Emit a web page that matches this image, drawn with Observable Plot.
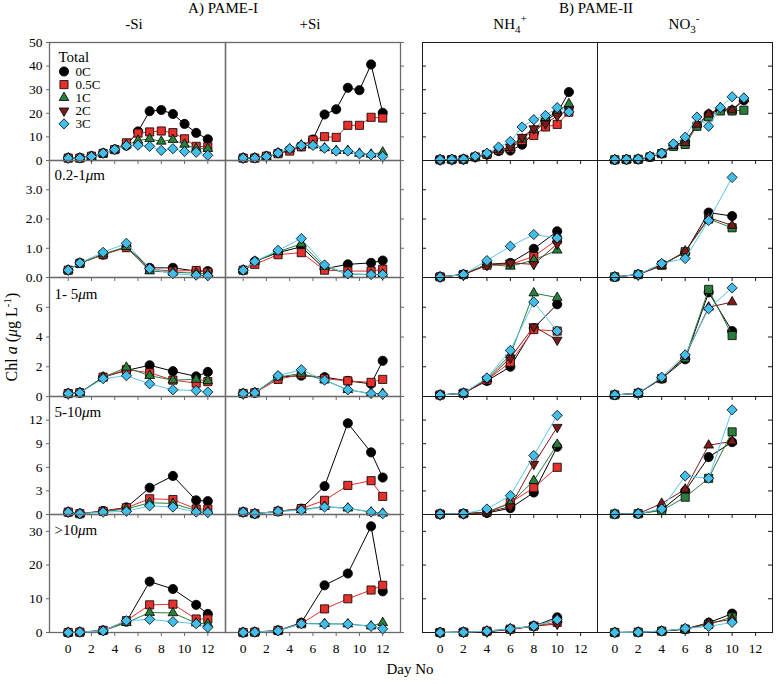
<!DOCTYPE html>
<html><head><meta charset="utf-8">
<script src="https://cdn.jsdelivr.net/npm/d3@7"></script>
<script src="https://cdn.jsdelivr.net/npm/@observablehq/plot@0.6"></script>
<style>
body{margin:0;background:#fff;}
#fig{position:relative;width:776px;height:684px;font-family:"Liberation Serif","Times New Roman",serif;background:#fff;overflow:hidden;}
#fig > svg{position:absolute;overflow:visible;}
</style></head><body><div id="fig"></div>
<script>
// ---------------- data ----------------
const seriesNames = ["0C", "0.5C", "1C", "2C", "3C"];
const seriesFill = ["#000000", "#e5302c", "#2b7d3b", "#7a1b1b", "#43bde9"];
const seriesLine = ["#000000", "#e5302c", "#2b7d3b", "#7a1b1b", "#5ac6ef"];
const rowLabels = ["Total", "0.2-1μm", "1- 5μm", "5-10μm", ">10μm"];
const rowTicks = [[0, 10, 20, 30, 40, 50], [0, 1, 2, 3], [0, 2, 4, 6], [0, 3, 6, 9, 12], [0, 10, 20, 30]];
const rowMax = [50, 4, 8, 15, 35];
const dayTicks = [0, 2, 4, 6, 8, 10, 12];
const colHeads = ["-Si", "+Si", "NH4+", "NO3-"];

const daysI_total = [0, 1, 2, 3, 4, 5, 6, 7, 8, 9, 10, 11, 12];
const daysI_frac = [0, 1, 3, 5, 7, 9, 11, 12];
const daysII_total = [0, 1, 2, 3, 4, 5, 6, 7, 8, 9, 10, 11];
const daysII_frac = [0, 2, 4, 6, 8, 10];

// Total
const totalMinusSi = {
  "0C":   [1.1, 1.1, 1.8, 3.1, 4.7, 6.3, 12.3, 20.9, 21.4, 19.7, 15.5, 11.7, 9.0],
  "0.5C": [1.0, 1.0, 1.8, 3.0, 4.6, 7.5, 11.6, 12.1, 12.5, 11.8, 9.2, 6.0, 5.8],
  "1C":   [1.0, 1.0, 1.7, 3.0, 4.6, 6.5, 8.5, 9.2, 8.1, 8.8, 6.8, 5.0, 5.0],
  "3C":   [1.0, 1.0, 1.7, 3.1, 4.7, 6.3, 6.5, 6.0, 4.3, 5.0, 3.8, 3.5, 2.2]
};
const totalPlusSi = {
  "0C":   [1.1, 1.1, 1.8, 3.1, 4.5, 6.0, 8.9, 19.5, 21.7, 30.8, 29.8, 40.7, 20.2],
  "0.5C": [1.0, 1.0, 1.8, 2.9, 4.0, 5.8, 8.7, 10.1, 9.8, 14.9, 14.9, 18.3, 18.0],
  "1C":   [1.0, 1.0, 1.7, 3.1, 4.8, 6.5, 6.5, 5.3, 4.2, 4.2, 3.0, 2.6, 3.5],
  "3C":   [1.0, 1.0, 1.7, 3.2, 5.0, 6.4, 6.4, 5.2, 4.0, 4.0, 2.8, 2.4, 1.7]
};
const totalNH4 = {
  "0C":   [0.3, 0.4, 0.5, 1.5, 2.5, 4.0, 4.2, 6.7, 11.5, 17.0, 20.0, 29.0],
  "0.5C": [0.3, 0.4, 0.5, 1.5, 2.6, 4.3, 5.2, 8.5, 10.6, 14.2, 15.3, 20.5],
  "1C":   [0.3, 0.4, 0.5, 1.5, 2.7, 4.5, 5.5, 9.0, 13.0, 18.0, 20.5, 24.0],
  "2C":   [0.3, 0.4, 0.5, 1.5, 2.7, 4.5, 5.7, 9.9, 13.5, 15.6, 18.9, 21.5],
  "3C":   [0.4, 0.5, 0.6, 1.8, 3.1, 5.7, 8.1, 14.2, 17.3, 19.1, 22.4, 20.6]
};
const totalNO3 = {
  "0C":   [0.3, 0.4, 0.5, 1.5, 3.0, 6.5, 8.0, 14.9, 19.6, 21.5, 21.3, 25.5],
  "1C":   [0.3, 0.4, 0.5, 1.5, 2.9, 6.0, 6.8, 14.5, 18.5, 21.0, 21.0, 21.3],
  "2C":   [0.3, 0.4, 0.5, 1.5, 2.9, 6.3, 7.5, 15.3, 19.6, 22.4, 21.3, 26.2],
  "3C":   [0.4, 0.5, 0.6, 1.8, 3.1, 7.1, 9.9, 18.4, 14.5, 22.4, 27.0, 26.5]
};
// 0.2-1 um
const picoMinusSi = {
  "0C":   [0.25, 0.50, 0.78, 1.05, 0.33, 0.33, 0.22, 0.22],
  "0.5C": [0.25, 0.48, 0.78, 1.02, 0.28, 0.22, 0.24, 0.18],
  "1C":   [0.25, 0.48, 0.80, 1.05, 0.22, 0.18, 0.15, 0.13],
  "3C":   [0.25, 0.50, 0.86, 1.17, 0.30, 0.13, 0.08, 0.06]
};
const picoPlusSi = {
  "0C":   [0.25, 0.55, 0.85, 1.05, 0.30, 0.45, 0.50, 0.58],
  "0.5C": [0.25, 0.45, 0.78, 0.85, 0.25, 0.22, 0.22, 0.28],
  "1C":   [0.25, 0.55, 0.88, 1.15, 0.38, 0.12, 0.10, 0.10],
  "3C":   [0.25, 0.55, 0.93, 1.33, 0.43, 0.12, 0.10, 0.10]
};
const picoNH4 = {
  "0C":   [0.02, 0.10, 0.45, 0.50, 0.98, 1.58],
  "0.5C": [0.02, 0.10, 0.42, 0.45, 0.72, 1.30],
  "1C":   [0.02, 0.10, 0.45, 0.38, 0.60, 0.93],
  "2C":   [0.02, 0.10, 0.42, 0.50, 0.45, 1.15],
  "3C":   [0.02, 0.10, 0.58, 1.07, 1.47, 1.35]
};
const picoNO3 = {
  "0C":   [0.02, 0.10, 0.45, 0.85, 2.22, 2.10],
  "1C":   [0.02, 0.10, 0.42, 0.88, 2.00, 1.70],
  "2C":   [0.02, 0.10, 0.40, 0.90, 2.05, 1.78],
  "3C":   [0.02, 0.10, 0.48, 0.65, 1.95, 3.42]
};
// 1-5 um
const smallMinusSi = {
  "0C":   [0.2, 0.25, 1.3, 1.75, 2.1, 1.7, 1.35, 1.65],
  "0.5C": [0.2, 0.25, 1.3, 1.8, 1.6, 1.1, 0.9, 1.0],
  "1C":   [0.2, 0.25, 1.3, 1.95, 1.4, 1.1, 1.15, 1.05],
  "3C":   [0.2, 0.25, 1.2, 1.4, 0.85, 0.45, 0.4, 0.3]
};
const smallPlusSi = {
  "0C":   [0.2, 0.25, 1.3, 1.4, 1.3, 1.05, 0.85, 2.4],
  "0.5C": [0.2, 0.25, 1.15, 1.5, 1.2, 1.05, 0.95, 1.15],
  "1C":   [0.2, 0.25, 1.3, 1.55, 1.1, 0.45, 0.2, 0.2],
  "3C":   [0.2, 0.25, 1.4, 1.8, 1.1, 0.45, 0.2, 0.15]
};
const smallNH4 = {
  "0C":   [0.1, 0.22, 1.05, 2.0, 4.6, 6.2],
  "0.5C": [0.1, 0.22, 1.1, 2.3, 4.5, 4.4],
  "1C":   [0.1, 0.22, 1.2, 2.8, 6.95, 6.65],
  "2C":   [0.1, 0.22, 1.1, 2.6, 4.7, 3.8],
  "3C":   [0.1, 0.22, 1.25, 3.1, 6.35, 4.4]
};
const smallNO3 = {
  "0C":   [0.1, 0.22, 1.2, 2.5, 7.0, 4.4],
  "1C":   [0.1, 0.22, 1.2, 2.6, 7.2, 4.1],
  "2C":   [0.1, 0.22, 1.2, 2.7, 6.0, 6.35],
  "3C":   [0.1, 0.22, 1.3, 2.8, 5.9, 7.3]
};
// 5-10 um
const midMinusSi = {
  "0C":   [0.3, 0.1, 0.45, 0.9, 3.4, 4.9, 1.8, 1.7],
  "0.5C": [0.3, 0.1, 0.4, 0.85, 2.0, 1.9, 0.7, 0.7],
  "1C":   [0.3, 0.1, 0.35, 0.7, 1.5, 1.4, 0.5, 0.4],
  "3C":   [0.3, 0.1, 0.3, 0.4, 1.1, 0.95, 0.3, 0.25]
};
const midPlusSi = {
  "0C":   [0.3, 0.1, 0.4, 0.75, 3.6, 11.6, 7.9, 4.7],
  "0.5C": [0.3, 0.1, 0.4, 0.75, 1.8, 3.7, 4.3, 2.3],
  "1C":   [0.3, 0.1, 0.4, 0.6, 1.0, 0.8, 0.3, 0.15],
  "3C":   [0.3, 0.1, 0.4, 0.55, 0.95, 0.8, 0.3, 0.1]
};
const midNH4 = {
  "0C":   [0.05, 0.1, 0.2, 0.8, 2.8, 8.6],
  "0.5C": [0.05, 0.1, 0.3, 1.5, 3.4, 6.0],
  "1C":   [0.05, 0.1, 0.3, 1.4, 4.3, 8.9],
  "2C":   [0.05, 0.1, 0.3, 1.0, 6.4, 11.1],
  "3C":   [0.05, 0.1, 0.7, 2.4, 7.5, 12.6]
};
const midNO3 = {
  "0C":   [0.05, 0.1, 0.6, 3.0, 7.3, 9.2],
  "1C":   [0.05, 0.1, 0.5, 2.2, 4.6, 10.5],
  "2C":   [0.05, 0.1, 1.4, 3.2, 8.8, 9.3],
  "3C":   [0.05, 0.1, 0.7, 4.9, 4.6, 13.3]
};
// >10 um
const largeMinusSi = {
  "0C":   [0.0, 0.1, 0.6, 3.2, 15.1, 12.9, 8.2, 5.5],
  "0.5C": [0.0, 0.1, 0.6, 3.5, 8.2, 8.4, 4.0, 4.0],
  "1C":   [0.0, 0.1, 0.5, 2.9, 5.9, 5.8, 2.8, 2.6],
  "3C":   [0.0, 0.1, 0.5, 3.5, 3.9, 3.2, 2.6, 1.5]
};
const largePlusSi = {
  "0C":   [0.0, 0.1, 0.6, 2.9, 14.0, 17.5, 31.5, 12.2],
  "0.5C": [0.0, 0.1, 0.6, 2.6, 7.0, 10.0, 12.6, 14.0],
  "1C":   [0.0, 0.1, 0.5, 2.7, 2.6, 2.5, 1.9, 2.9],
  "3C":   [0.0, 0.1, 0.5, 2.6, 2.5, 2.5, 1.8, 1.1]
};
const largeNH4 = {
  "0C":   [0.0, 0.1, 0.3, 1.0, 1.9, 4.5],
  "0.5C": [0.0, 0.1, 0.4, 1.0, 1.9, 3.0],
  "1C":   [0.0, 0.1, 0.4, 1.1, 1.9, 3.8],
  "2C":   [0.0, 0.1, 0.2, 0.9, 1.9, 2.5],
  "3C":   [0.0, 0.1, 0.4, 1.1, 1.9, 3.8]
};
const largeNO3 = {
  "0C":   [0.0, 0.1, 0.4, 1.0, 2.9, 5.6],
  "1C":   [0.0, 0.1, 0.4, 1.0, 2.4, 4.6],
  "2C":   [0.0, 0.1, 0.4, 1.0, 2.8, 3.9],
  "3C":   [0.0, 0.1, 0.4, 1.2, 1.8, 3.0]
};

// ---------------- layout ----------------
const grid = [
  [totalMinusSi, totalPlusSi, totalNH4, totalNO3],
  [picoMinusSi, picoPlusSi, picoNH4, picoNO3],
  [smallMinusSi, smallPlusSi, smallNH4, smallNO3],
  [midMinusSi, midPlusSi, midNH4, midNO3],
  [largeMinusSi, largePlusSi, largeNH4, largeNO3]
];
const colEdges = [[49, 225], [225, 400], [422, 597], [597, 772]];
const rowEdges = [[42, 160], [160, 277], [277, 396], [396, 514], [514, 632]];
const xDomains = [[-1.61, 13.52], [-1.52, 13.53], [-1.5, 13.44], [-1.47, 13.44]];
const labelDy = [19.5, 19.3, 21.7, 20, 20];

const triangleDown = {
  draw(context, size) {
    const y = -Math.sqrt(size / (Math.sqrt(3) * 3));
    context.moveTo(0, -y * 2);
    context.lineTo(-Math.sqrt(3) * y, y);
    context.lineTo(Math.sqrt(3) * y, y);
    context.closePath();
  }
};
const baseSymbols = {"0C": ["circle", 4.6], "0.5C": ["square", 4.6], "1C": ["triangle", 3.6], "2C": [triangleDown, 3.6], "3C": ["diamond2", 4.6]};
const no3Symbols = {"0C": ["circle", 4.6], "1C": ["square", 4.6], "2C": ["triangle", 3.6], "3C": ["diamond2", 4.6]};

const fig = document.getElementById("fig");

function makePanel(r, c) {
  const [x0, x1] = colEdges[c];
  const [y0, y1] = rowEdges[r];
  const pw = x1 - x0, ph = y1 - y0;
  const mL = c === 0 ? 49 : 8, mR = 8, mT = 8, mB = r === 4 ? 52 : 8;
  const data = grid[r][c];
  const days = r === 0 ? (c < 2 ? daysI_total : daysII_total) : (c < 2 ? daysI_frac : daysII_frac);
  const frameColor = c < 2 ? "#6a6a6a" : "#1a1a1a";
  const syms = c === 3 ? no3Symbols : baseSymbols;
  const marks = [];
  if (c === 0) {
    marks.push(Plot.axisY({anchor: "left", ticks: rowTicks[r], tickSize: 3, tickPadding: 4, fontSize: 13.5, label: null, stroke: frameColor}));
  } else if (c === 1) {
    marks.push(Plot.axisY({anchor: "right", ticks: rowTicks[r], tickSize: 3, tickFormat: () => "", label: null, stroke: frameColor}));
  } else if (c === 2) {
    marks.push(Plot.tickY(rowTicks[r], {insetRight: pw - 4, stroke: frameColor}));
  } else {
    marks.push(Plot.tickY(rowTicks[r], {insetLeft: pw - 4, stroke: frameColor}));
  }
  marks.push(Plot.axisX({ticks: dayTicks, tickSize: 4, tickPadding: 7, fontSize: 13.5, label: null,
    tickFormat: r === 4 ? (d => String(d)) : (() => ""), stroke: frameColor}));
  marks.push(Plot.frame({stroke: frameColor, strokeWidth: c < 2 ? 1.3 : 1}));
  for (const name of seriesNames) {
    if (!(name in data)) continue;
    const k = seriesNames.indexOf(name);
    const pts = days.map((d, i) => ({day: d, v: data[name][i]}));
    marks.push(Plot.line(pts, {x: "day", y: "v", stroke: seriesLine[k], strokeWidth: 1}));
    const [sym, rr] = syms[name];
    marks.push(Plot.dot(pts, {x: "day", y: "v", symbol: sym, r: rr, fill: seriesFill[k], stroke: "#000", strokeWidth: 0.8}));
  }
  if (c === 0) {
    marks.push(Plot.text([rowLabels[r]], {frameAnchor: "top-left", dx: r === 0 ? 9 : 5, dy: labelDy[r], textAnchor: "start", lineAnchor: "bottom", fontSize: 15, fill: "#000"}));
    if (r === 0) {
      seriesNames.forEach((name, i) => {
        const [sym, rr] = baseSymbols[name];
        marks.push(Plot.dot([name], {frameAnchor: "top-left", dx: 14.5, dy: 29 + 13.1 * i, symbol: sym, r: rr, fill: seriesFill[i], stroke: "#000", strokeWidth: 0.8}));
        marks.push(Plot.text([name], {frameAnchor: "top-left", dx: 26, dy: 33.5 + 13.1 * i, textAnchor: "start", lineAnchor: "bottom", fontSize: 13, fill: "#000"}));
      });
    }
  }
  const svg = Plot.plot({
    width: pw + mL + mR, height: ph + mT + mB,
    marginLeft: mL, marginRight: mR, marginTop: mT, marginBottom: mB,
    x: {domain: xDomains[c], axis: null},
    y: {domain: [0, rowMax[r]], axis: null},
    style: {background: "none", overflow: "visible", fontFamily: "'Liberation Serif', 'Times New Roman', serif", color: "#000"},
    marks
  });
  svg.style.left = (x0 - mL) + "px";
  svg.style.top = (y0 - mT) + "px";
  fig.appendChild(svg);
}

for (let r = 0; r < 5; r++) for (let c = 0; c < 4; c++) makePanel(r, c);

// italic mu in row labels
fig.querySelectorAll("text").forEach(t => {
  if (t.childElementCount === 0 && t.textContent.includes("μ")) {
    const [a, b] = t.textContent.split("μ");
    t.textContent = "";
    const ns = "http://www.w3.org/2000/svg";
    const t1 = document.createElementNS(ns, "tspan"); t1.textContent = a;
    const t2 = document.createElementNS(ns, "tspan"); t2.textContent = "μ"; t2.setAttribute("font-style", "italic");
    const t3 = document.createElementNS(ns, "tspan"); t3.textContent = b;
    t.append(t1, t2, t3);
  }
});

// headers and axis titles
const ov = d3.select(fig).append("svg").attr("width", 776).attr("height", 684)
  .style("left", "0px").style("top", "0px")
  .attr("font-family", "'Liberation Serif', 'Times New Roman', serif").attr("fill", "#000");
ov.append("text").attr("x", 223).attr("y", 13).attr("text-anchor", "middle").attr("font-size", 15).text("A) PAME-I");
ov.append("text").attr("x", 596).attr("y", 13).attr("text-anchor", "middle").attr("font-size", 15).text("B) PAME-II");
ov.append("text").attr("x", 134).attr("y", 29).attr("text-anchor", "middle").attr("font-size", 15).text(colHeads[0]);
ov.append("text").attr("x", 310).attr("y", 29).attr("text-anchor", "middle").attr("font-size", 15).text(colHeads[1]);
function chem(x, base, sub, sup) {
  const t = ov.append("text").attr("x", x).attr("y", 29).attr("text-anchor", "middle").attr("font-size", 15);
  t.append("tspan").text(base);
  t.append("tspan").attr("dy", 4).attr("font-size", 11).text(sub);
  t.append("tspan").attr("dy", -11).attr("font-size", 11).text(sup);
}
chem(510, "NH", "4", "+");
chem(684, "NO", "3", "-");
const yt = ov.append("text").attr("transform", "translate(17,337) rotate(-90)").attr("text-anchor", "middle").attr("font-size", 16);
yt.append("tspan").text("Chl ");
yt.append("tspan").attr("font-style", "italic").text("a");
yt.append("tspan").text(" (");
yt.append("tspan").attr("font-style", "italic").text("μ");
yt.append("tspan").text("g L");
yt.append("tspan").attr("dy", -6).attr("font-size", 11).text("-1");
yt.append("tspan").attr("dy", 6).text(")");
ov.append("text").attr("x", 410).attr("y", 674).attr("text-anchor", "middle").attr("font-size", 15).text("Day No");
</script></body></html>
